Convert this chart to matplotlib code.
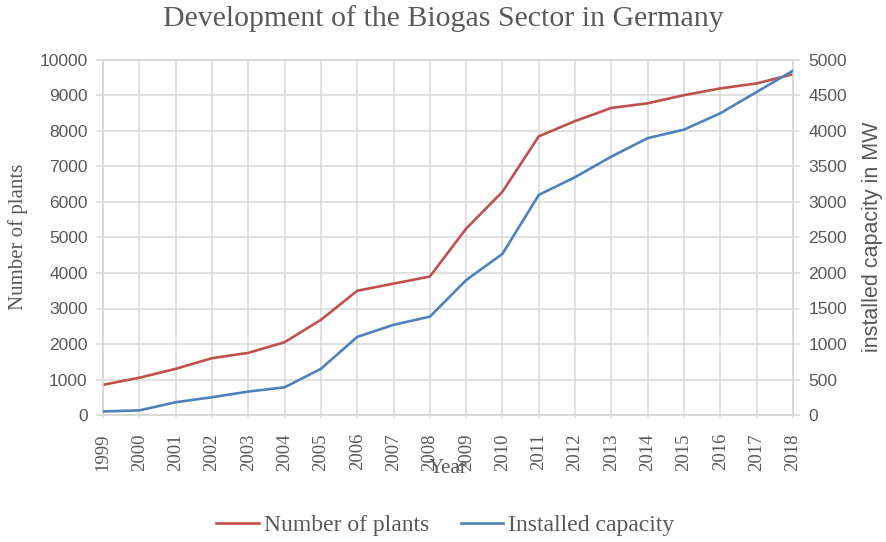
import matplotlib
matplotlib.use("Agg")
import matplotlib.pyplot as plt

# biogas plants in Germany and their installed electrical capacity
years = list(range(1999, 2019))
plants = [850, 1050, 1300, 1600, 1750, 2050, 2680, 3500, 3700, 3900,
          5250, 6290, 7850, 8280, 8650, 8780, 9010, 9200, 9340, 9600]
capacity_mw = [50, 65, 180, 250, 330, 390, 650, 1100, 1270, 1385,
               1900, 2270, 3100, 3350, 3640, 3900, 4020, 4250, 4550, 4850]

RED = '#c0504d'
BLUE = '#4f81bd'
GRID = '#d9d9d9'
TEXT = '#595959'
SERIF = 'Liberation Serif'
SANS = 'Liberation Sans'

fig = plt.figure(figsize=(8.87, 5.42), dpi=100)
ax = fig.add_axes([103 / 887, 1 - 415 / 542, 690 / 887, 355 / 542])
ax2 = ax.twinx()

l1, = ax.plot(years, plants, color=RED, lw=1.9, label='Number of plants', zorder=3)
l2, = ax2.plot(years, capacity_mw, color=BLUE, lw=1.9, label='Installed capacity', zorder=3)

ax.set_xlim(1999, 2018)
ax.set_ylim(0, 10000)
ax2.set_ylim(0, 5000)
ax.set_xticks(years)
ax.set_xticklabels([str(y) for y in years], rotation=90, fontfamily=SERIF,
                   fontsize=13.5)
ax.set_yticks(range(0, 10001, 1000))
ax2.set_yticks(range(0, 5001, 500))
for label in ax.get_yticklabels() + ax2.get_yticklabels():
    label.set_fontfamily(SANS)
    label.set_fontsize(12.5)

ax.grid(True, color=GRID, lw=1.1)
ax.set_axisbelow(True)
for a in (ax, ax2):
    for s in a.spines.values():
        s.set_color(GRID)
        s.set_linewidth(1.1)
    a.tick_params(color=GRID, labelcolor=TEXT, length=5, width=1.1)
ax.tick_params(axis='x', length=2, pad=11)
ax.tick_params(axis='y', pad=6)
ax2.tick_params(axis='y', pad=6)

ax.set_xlabel('Year', fontfamily=SERIF, fontsize=15, color=TEXT)
ax.xaxis.set_label_coords(0.5, -0.125)

fig.text(0.5, 1 - 19 / 542, 'Development of the Biogas Sector in Germany',
         ha='center', va='center', fontfamily=SERIF, fontsize=21.5, color=TEXT)
fig.text(18 / 887, 1 - 237 / 542, 'Number of plants', rotation=90,
         ha='center', va='center', fontfamily=SERIF, fontsize=15, color=TEXT)
fig.text(873 / 887, 1 - 237 / 542, 'installed capacity in MW', rotation=90,
         ha='center', va='center', fontfamily=SANS, fontsize=15.5, color=TEXT)

leg = fig.legend(handles=[l1, l2], loc='center', bbox_to_anchor=(0.502, 1 - 525 / 542),
                 ncol=2, frameon=False, handlelength=1.8, handletextpad=0.2,
                 columnspacing=1.35, prop={'family': SERIF, 'size': 17})
for t in leg.get_texts():
    t.set_color(TEXT)

fig.savefig('out.png', dpi=100)
